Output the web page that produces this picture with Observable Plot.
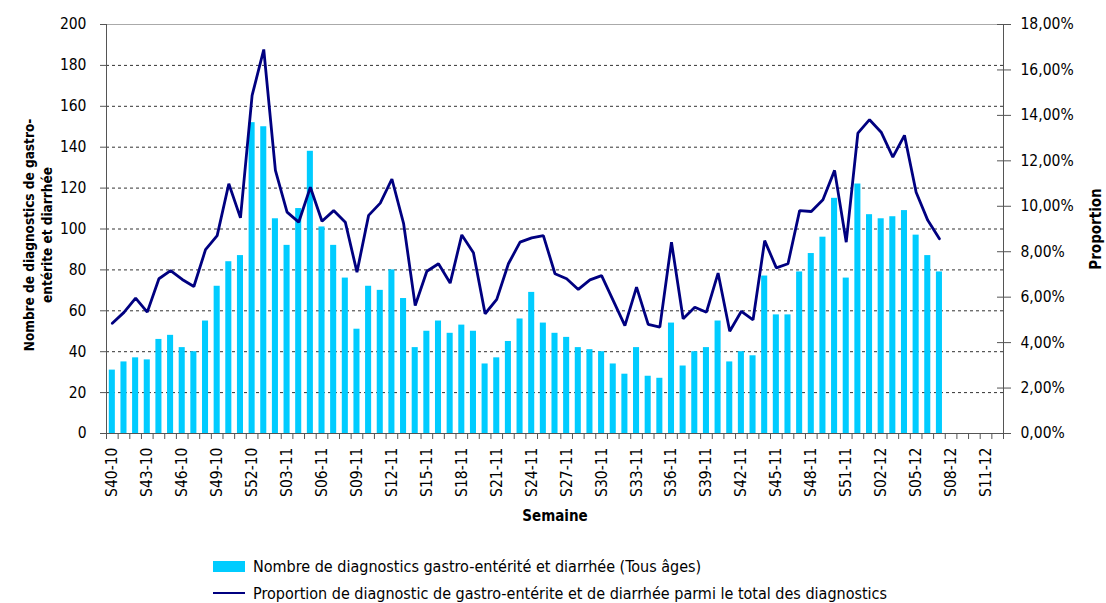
<!DOCTYPE html>
<html><head><meta charset="utf-8">
<script src="https://cdn.jsdelivr.net/npm/d3@7"></script>
<script src="https://cdn.jsdelivr.net/npm/@observablehq/plot@0.6"></script>
<style>
body{margin:0;background:#fff;font-family:"Liberation Sans Narrow","DejaVu Sans Condensed","Roboto",sans-serif;}
#wrap{position:relative;width:1106px;height:603px;overflow:hidden;}
#legend{position:absolute;left:0;top:548px;width:1106px;height:55px;font-size:16px;color:#000;}
.item{position:absolute;left:213px;height:20px;display:flex;align-items:center;white-space:nowrap;}
.sw{display:inline-block;width:32px;margin-right:8px;}
</style></head><body>
<div id="wrap"><div id="chart"></div>
<div id="legend">
  <div class="item" style="top:8px"><span class="sw" style="height:11px;background:#00CCFF"></span><span id="l1"></span></div>
  <div class="item" style="top:35px"><span class="sw" style="height:2.5px;background:#000080"></span><span id="l2"></span></div>
</div></div>
<script>
const weeks = ["S40-10","S41-10","S42-10","S43-10","S44-10","S45-10","S46-10","S47-10","S48-10","S49-10","S50-10","S51-10","S52-10",
"S01-11","S02-11","S03-11","S04-11","S05-11","S06-11","S07-11","S08-11","S09-11","S10-11","S11-11","S12-11","S13-11","S14-11","S15-11",
"S16-11","S17-11","S18-11","S19-11","S20-11","S21-11","S22-11","S23-11","S24-11","S25-11","S26-11","S27-11","S28-11","S29-11","S30-11",
"S31-11","S32-11","S33-11","S34-11","S35-11","S36-11","S37-11","S38-11","S39-11","S40-11","S41-11","S42-11","S43-11","S44-11","S45-11",
"S46-11","S47-11","S48-11","S49-11","S50-11","S51-11","S52-11","S01-12","S02-12","S03-12","S04-12","S05-12","S06-12","S07-12","S08-12",
"S09-12","S10-12","S11-12","S12-12"];
const counts = [31,35,37,36,46,48,42,40,55,72,84,87,152,150,105,92,110,138,101,92,76,51,72,70,80,66,42,50,55,49,53,50,34,37,45,56,69,54,49,47,42,41,40,34,29,42,28,27,54,
33,40,42,55,35,40,38,77,58,58,79,88,96,115,76,122,107,105,106,109,97,87,79];
const proportions = [4.85,5.33,5.96,5.34,6.81,7.17,6.78,6.47,8.09,8.71,10.99,9.49,14.88,16.9,11.58,9.74,9.30,10.84,9.34,9.81,9.30,7.10,9.60,10.14,11.2,9.25,
5.63,7.14,7.47,6.62,8.74,7.95,5.27,5.90,7.47,8.42,8.61,8.71,7.03,6.81,6.34,6.76,6.95,5.85,4.75,6.44,4.80,4.68,8.42,
5.05,5.56,5.34,7.06,4.50,5.38,5.00,8.49,7.29,7.47,9.81,9.77,10.29,11.58,8.42,13.22,13.81,13.26,12.16,13.12,10.62,9.38,8.57];
const leftTicks = [0,20,40,60,80,100,120,140,160,180,200];
const rightTicks = [0,2,4,6,8,10,12,14,16,18];
const labelWeeks = weeks.filter((d,i)=>i%3===0);
const legendLabels = ["Nombre de diagnostics gastro-entérité et diarrhée (Tous âges)",
  "Proportion de diagnostic de gastro-entérite et de diarrhée parmi le total des diagnostics"];
const titles = {left:"Nombre de diagnostics de gastro-\nentérite et diarrhée", right:"Proportion", x:"Semaine"};

const W=1106, H=548, mL=106, mR=103, mT=24, mB=115;
const step=(W-mL-mR)/weeks.length;
const k=200/18;
const barData = counts.map((c,i)=>({week:weeks[i], count:c}));
const lineData = proportions.map((p,i)=>({week:weeks[i], v:p*k}));
const font = '"Liberation Sans Narrow","DejaVu Sans Condensed",sans-serif';

const chart = Plot.plot({
  width:W, height:H, marginLeft:mL, marginRight:mR, marginTop:mT, marginBottom:mB,
  style:{fontFamily:font, fontSize:"15px", color:"#000", background:"#fff"},
  x:{type:"band", domain:weeks, paddingInner:0.48, paddingOuter:0.24},
  y:{domain:[0,200]},
  marks:[
    Plot.gridY(leftTicks.filter(t=>t>0&&t<200), {stroke:"#333", strokeOpacity:1, strokeDasharray:"3,3"}),
    Plot.ruleY([200], {stroke:"#aaa"}),
    Plot.barY(barData, {x:"week", y:"count", fill:"#00CCFF"}),
    Plot.line(lineData, {x:"week", y:"v", stroke:"#000080", strokeWidth:2.8, strokeLinejoin:"miter"}),
    Plot.ruleY([0], {stroke:"#555"}),
    Plot.ruleX([weeks[0]], {dx:-step/2, stroke:"#555"}),
    Plot.ruleX([weeks[weeks.length-1]], {dx:step/2, stroke:"#555"}),
    Plot.axisX(weeks, {anchor:"bottom", tickSize:6, tickFormat:()=>"", dx:-step/2, stroke:"#555", label:null}),
    Plot.axisX([weeks[weeks.length-1]], {anchor:"bottom", tickSize:6, tickFormat:()=>"", dx:step/2, stroke:"#555", label:null}),
    Plot.axisX(labelWeeks, {anchor:"bottom", tickSize:0, tickPadding:14, tickRotate:-90, fontSize:15.5, label:null}),
    Plot.axisY(leftTicks, {anchor:"left", tickSize:6, tickPadding:14, fontSize:15.5, stroke:"#555", label:null}),
    Plot.axisY(rightTicks.map(p=>p*k), {anchor:"right", tickSize:7, tickPadding:10, fontSize:15.5, stroke:"#555", label:null,
      tickFormat:v=>(v/k).toFixed(2).replace(".",",")+"%"}),
    Plot.axisY(rightTicks.map(p=>p*k), {anchor:"right", tickSize:7, dx:-7, stroke:"#555", label:null, tickFormat:()=>""}),
    Plot.text([titles.x], {frameAnchor:"bottom", dy:87, fontWeight:"bold", fontSize:15}),
    Plot.text([titles.left], {frameAnchor:"left", textAnchor:"middle", dx:-69, dy:6, rotate:-90, fontWeight:"bold", fontSize:13.5, lineHeight:1.33}),
    Plot.text([titles.right], {frameAnchor:"right", textAnchor:"middle", dx:93, rotate:-90, fontWeight:"bold", fontSize:15})
  ]
});
document.getElementById("chart").appendChild(chart);
document.getElementById("l1").textContent = legendLabels[0];
document.getElementById("l2").textContent = legendLabels[1];
</script>
</body></html>
